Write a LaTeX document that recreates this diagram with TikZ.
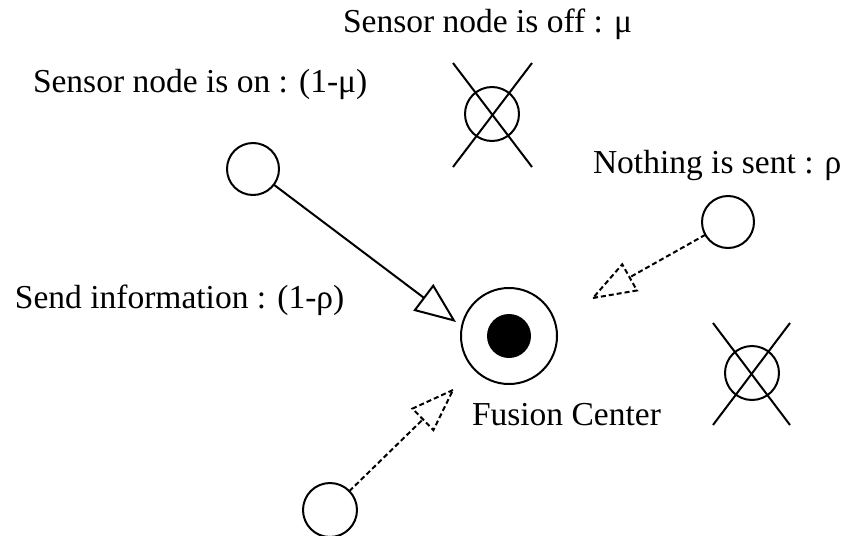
\documentclass[tikz,border=0pt]{standalone}
\usepackage{fontspec}
\setmainfont{Liberation Serif}
\usetikzlibrary{arrows.meta,calc}
\begin{document}
\begin{tikzpicture}[x=1pt,y=-1pt,
  every node/.style={inner sep=0pt,outer sep=0pt},
  lbl/.style={anchor=base west,font=\fontsize{33.5}{40}\selectfont},
  sensor/.style={circle,draw,line width=2pt,minimum size=52pt},
  crossln/.style={line width=2pt},
  dashln/.style={line width=2pt,dash pattern=on 5pt off 3pt},
  solidln/.style={line width=2pt}]
\useasboundingbox (0,0) rectangle (847,536);
% labels
\node[lbl] (loff) at (343,32) {Sensor node is off : μ};
\node[lbl] (lon) at (33,92) {Sensor node is on : (1-μ)};
\node[lbl] (lns) at (593,173) {Nothing is sent : ρ};
\node[lbl] (lsi) at (15,308) {Send information : (1-ρ)};
\node[lbl] (lfc) at (472,425) {Fusion Center};
% fusion center
\node[circle,draw,line width=2pt,minimum size=96pt] (fc) at (509,336) {};
\node[circle,fill=black,minimum size=44pt] (fcin) at (fc) {};
% sensors
\node[sensor] (on) at (253,169) {};
\node[sensor] (ns) at (728,222) {};
\node[sensor,minimum size=54pt] (bt) at (330,510) {};
\node[sensor,minimum size=54pt] (off1) at (492,114) {};
\node[sensor,minimum size=54pt] (off2) at (752,373) {};
% crosses
\coordinate (o1a) at (453,63); \coordinate (o1b) at (532,167);
\coordinate (o1c) at (532,63); \coordinate (o1d) at (453,167);
\draw[crossln] (o1a) -- (o1b); \draw[crossln] (o1c) -- (o1d);
\coordinate (o2a) at (713,323); \coordinate (o2b) at (790,425);
\coordinate (o2c) at (790,323); \coordinate (o2d) at (713,425);
\draw[crossln] (o2a) -- (o2b); \draw[crossln] (o2c) -- (o2d);
% solid arrow
\coordinate (t1) at (456,322);
\draw[solidln,line join=miter,-{Triangle[open,length=41pt,width=33pt]}] (on) -- (t1);
% dashed arrows
\coordinate (t2) at (593,298);
\coordinate (b2) at ($(t2)!42pt!(ns.center)$);
\coordinate (c2a) at ($(b2)!15pt!90:(t2)$);
\coordinate (c2b) at ($(b2)!15pt!-90:(t2)$);
\draw[dashln] (ns) -- (b2);
\draw[dashln] (t2) -- (c2a) -- (c2b) -- cycle;
\coordinate (t3) at (453,390);
\coordinate (b3) at ($(t3)!42pt!(bt.center)$);
\coordinate (c3a) at ($(b3)!15pt!90:(t3)$);
\coordinate (c3b) at ($(b3)!15pt!-90:(t3)$);
\draw[dashln] (bt) -- (b3);
\draw[dashln] (t3) -- (c3a) -- (c3b) -- cycle;
\end{tikzpicture}
\end{document}
